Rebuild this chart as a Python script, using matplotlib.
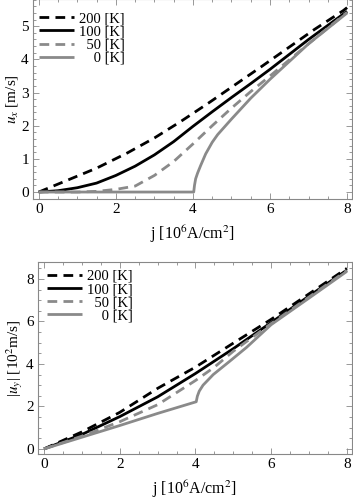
import matplotlib
matplotlib.use("Agg")
import matplotlib.pyplot as plt
from matplotlib.ticker import MultipleLocator

plt.rcParams['font.family'] = ['Liberation Serif', 'DejaVu Serif']
plt.rcParams['mathtext.fontset'] = 'stix'

# temperatures for the legend
labels = ['200 [K]', '100 [K]', '\u200750 [K]', '\u2007\u20070 [K]']

# top panel: u_x [m/s]
jx_200 = [0, 0.75, 1.5, 2.3, 3, 3.7, 4.4, 5.1, 5.8, 6.45, 7.15, 7.9, 8]
ux_200 = [0, 0.36, 0.72, 1.18, 1.63, 2.14, 2.68, 3.24, 3.8, 4.33, 4.9, 5.47, 5.56]
jx_100 = [0, 0.5, 1, 1.5, 2, 2.5, 3, 3.5, 4, 4.5, 5, 5.5, 6, 7, 8]
ux_100 = [0, 0.04, 0.13, 0.27, 0.5, 0.78, 1.12, 1.52, 1.98, 2.42, 2.85, 3.27, 3.7, 4.6, 5.45]
jx_50 = [0, 1, 1.5, 2, 2.5, 3, 3.5, 4, 4.5, 5, 5.5, 6, 7, 8]
ux_50 = [0, 0.0, 0.02, 0.08, 0.18, 0.5, 0.92, 1.45, 2.0, 2.53, 3.03, 3.5, 4.47, 5.42]
jx_0 = [0, 4.02, 4.04, 4.07, 4.12, 4.2, 4.33, 4.5, 4.64, 5, 5.5, 6, 7, 8]
ux_0 = [0, 0, 0.2, 0.4, 0.57, 0.8, 1.15, 1.5, 1.73, 2.2, 2.83, 3.4, 4.47, 5.4]

# bottom panel: |u_y| [10^2 m/s]
jy_200 = [0, 1, 2, 3, 4, 5, 6, 7, 8]
uy_200 = [0, 0.8, 1.72, 2.85, 3.85, 4.98, 6.1, 7.3, 8.5]
jy_100 = [0, 1, 2, 3, 4, 5, 6, 7, 8]
uy_100 = [0, 0.68, 1.52, 2.45, 3.55, 4.72, 5.95, 7.2, 8.42]
jy_50 = [0, 1, 2, 3, 4, 4.5, 5, 6, 7, 8]
uy_50 = [0, 0.6, 1.28, 2.08, 3.22, 3.85, 4.6, 5.9, 7.15, 8.4]
jy_0 = [0, 1, 2, 3, 4.02, 4.05, 4.1, 4.2, 4.47, 4.9, 5.35, 6, 7, 8]
uy_0 = [0, 0.55, 1.1, 1.67, 2.22, 2.48, 2.72, 3.0, 3.5, 4.12, 4.78, 5.85, 7.1, 8.36]

GRAY = '#8a8a8a'
LW = 2.0
DASH = (7 / LW, 4.5 / LW)
styles = [('k', DASH), ('k', None), (GRAY, DASH), (GRAY, None)]


def draw(ax, series):
    for (x, y), (c, d), lab in zip(series, styles, labels):
        line, = ax.plot(x, y, color=c, lw=LW, label=lab, solid_capstyle='butt')
        if d:
            line.set_dashes(d)


def style(ax):
    for s in ax.spines.values():
        s.set_color('#888888')
        s.set_linewidth(0.8)
    ax.tick_params(which='both', direction='in', top=True, right=True,
                   color='#888888', labelsize=11, width=0.6)
    ax.tick_params(which='major', length=4, pad=3)
    ax.tick_params(which='minor', length=2)


def legend(ax, anchor):
    ax.legend(loc='upper left', bbox_to_anchor=anchor, frameon=False,
              fontsize=10.5, handlelength=2.4, handletextpad=0.3,
              labelspacing=0.0, borderpad=0, borderaxespad=0)


fig = plt.figure(figsize=(3.53, 5.0), dpi=100)

ax1 = fig.add_axes([0.0935, 0.602, 0.904, 0.400])
draw(ax1, [(jx_200, ux_200), (jx_100, ux_100), (jx_50, ux_50), (jx_0, ux_0)])
ax1.set_xlim(-0.15, 8.13)
ax1.set_ylim(-0.21, 5.82)
ax1.xaxis.set_major_locator(MultipleLocator(2))
ax1.xaxis.set_minor_locator(MultipleLocator(0.5))
ax1.yaxis.set_major_locator(MultipleLocator(1))
ax1.yaxis.set_minor_locator(MultipleLocator(0.2))
ax1.set_xlabel(r'j [10$^6$A/cm$^2$]', fontsize=11.5, labelpad=5)
ax1.set_ylabel(r'$u_x$ [m/s]', fontsize=11, labelpad=1)
style(ax1)
legend(ax1, (0.02, 0.935))

ax2 = fig.add_axes([0.1076, 0.092, 0.889, 0.384])
draw(ax2, [(jy_200, uy_200), (jy_100, uy_100), (jy_50, uy_50), (jy_0, uy_0)])
ax2.set_xlim(-0.16, 8.13)
ax2.set_ylim(-0.24, 8.8)
ax2.xaxis.set_major_locator(MultipleLocator(2))
ax2.xaxis.set_minor_locator(MultipleLocator(0.5))
ax2.yaxis.set_major_locator(MultipleLocator(2))
ax2.yaxis.set_minor_locator(MultipleLocator(0.5))
ax2.set_xlabel(r'j [10$^6$A/cm$^2$]', fontsize=11.5, labelpad=5)
ax2.set_ylabel(r'|$u_y$| [10$^2$m/s]', fontsize=11, labelpad=1)
style(ax2)
legend(ax2, (0.03, 0.96))

fig.savefig('out.png', dpi=100)
